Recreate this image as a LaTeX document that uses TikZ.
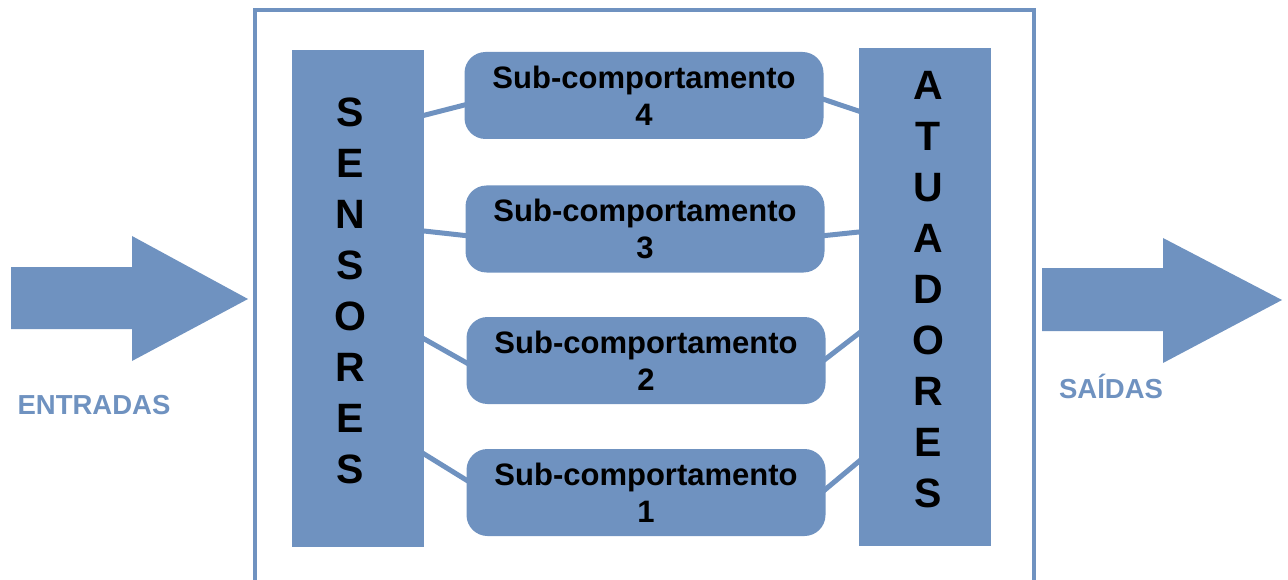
\documentclass[tikz,border=0pt]{standalone}
\usepackage{fontspec}
\setmainfont{Liberation Sans}
\usetikzlibrary{calc,backgrounds}
\definecolor{blu}{RGB}{111,146,192}
\begin{document}
\begin{tikzpicture}[x=1pt,y=-1pt,
  bar/.style={fill=blu, draw=none, minimum width=132pt, inner sep=0pt},
  sub/.style={fill=blu, rounded corners=21pt, minimum width=359pt, minimum height=87pt,
    inner sep=0pt, font=\bfseries\fontsize{31}{37}\selectfont, align=center},
  letters/.style={font=\bfseries\fontsize{41}{51}\selectfont, align=center, inner sep=0pt},
  link/.style={draw=blu, line width=5pt},
  frame/.style={draw=blu, line width=3.5pt},
  bigarrow/.style={fill=blu},
  io/.style={text=blu, font=\bfseries\fontsize{27.5}{30}\selectfont, anchor=base, inner sep=0pt}]

\useasboundingbox (0,0) rectangle (1288,580);

% sensor and actuator columns
\node[bar, minimum height=497pt] (sens) at (358,298.5) {};
\node[bar, minimum height=498pt] (act) at (925,297) {};
\node[letters] (senstxt) at (350,290.5) {S\\E\\N\\S\\O\\R\\E\\S};
\node[letters] (acttxt) at (928,289.5) {A\\T\\U\\A\\D\\O\\R\\E\\S};

% behaviour modules
\node[sub] (b4) at (644,95.5) {Sub-comportamento\\4};
\node[sub] (b3) at (645,229) {Sub-comportamento\\3};
\node[sub] (b2) at (646,360.5) {Sub-comportamento\\2};
\node[sub] (b1) at (646,492.5) {Sub-comportamento\\1};

% input / output labels
\node[io] (entradas) at (94,414) {ENTRADAS};
\node[io] (saidas) at (1111,398) {SAÍDAS};

\begin{scope}[on background layer]
  % enclosing frame
  \draw[frame] (255,10) rectangle (1034,595);
  % links from sensors to modules
  \draw[link] ($(sens.north east)+(-2,66)$)  -- ($(b4.west)+(4,8.5)$);
  \draw[link] ($(sens.north east)+(-2,181)$) -- ($(b3.west)+(4,7)$);
  \draw[link] ($(sens.north east)+(-2,288)$) -- ($(b2.west)+(4,4.5)$);
  \draw[link] ($(sens.north east)+(-2,403)$) -- ($(b1.west)+(4,-10)$);
  % links from modules to actuators
  \draw[link] ($(b4.east)+(-4,2.5)$) -- ($(act.north west)+(2,64)$);
  \draw[link] ($(b3.east)+(-4,7)$)   -- ($(act.north west)+(2,184)$);
  \draw[link] ($(b2.east)+(-4,1.5)$) -- ($(act.north west)+(2,284)$);
  \draw[link] ($(b1.east)+(-4,0)$)   -- ($(act.north west)+(2,412)$);
\end{scope}

% block arrows for inputs and outputs
\fill[bigarrow] (11,267) -- (132,267) -- (132,236) -- (248,299) -- (132,361) -- (132,329) -- (11,329) -- cycle;
\fill[bigarrow] (1042,268) -- (1163,268) -- (1163,238) -- (1282,300) -- (1163,363) -- (1163,331) -- (1042,331) -- cycle;
\end{tikzpicture}
\end{document}
